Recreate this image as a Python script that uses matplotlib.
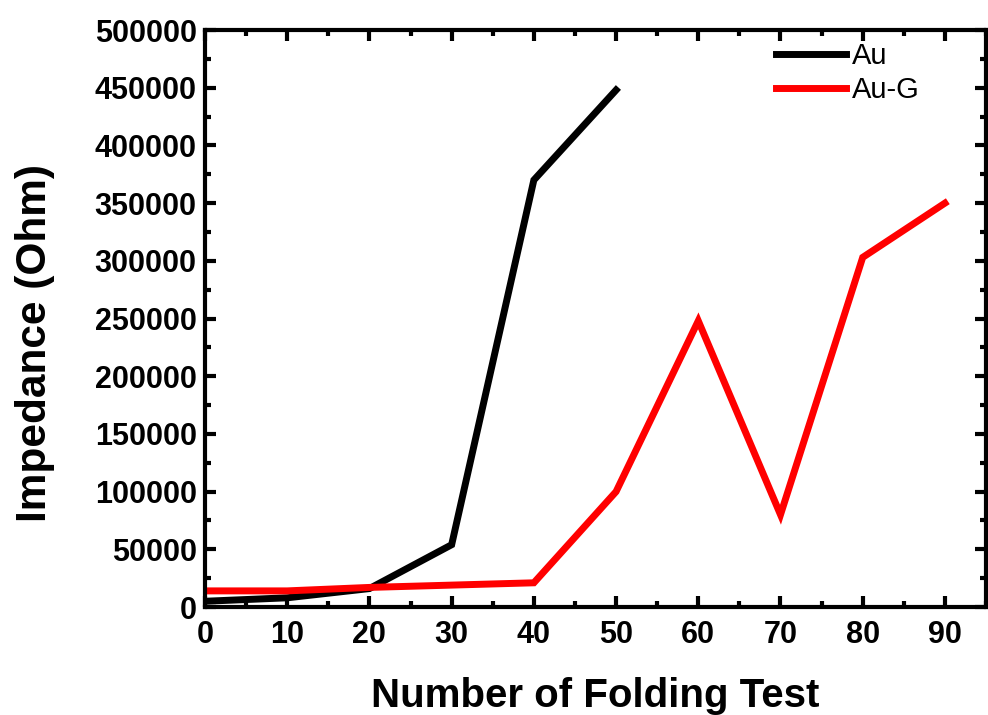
import numpy as np
import matplotlib
matplotlib.use("Agg")
import matplotlib.pyplot as plt
from matplotlib.ticker import MultipleLocator

plt.rcParams['font.family'] = ['Liberation Sans', 'DejaVu Sans']

folds_au = [0, 10, 20, 30, 40, 50]
imp_au = [5000, 8000, 16000, 54000, 370000, 448000]

folds_aug = [0, 10, 20, 30, 40, 50, 60, 70, 80, 90]
imp_aug = [14000, 14000, 17000, 19000, 21000, 100000, 248000, 80000, 303000, 350000]

fig = plt.figure(figsize=(9.88, 7.15), dpi=100)
ax = fig.add_axes([0.2075, 0.151, 0.7905, 0.807])

ax.plot(folds_au, imp_au, color='black', lw=5, label='Au', solid_joinstyle='miter')
ax.plot(folds_aug, imp_aug, color='red', lw=5, label='Au-G', solid_joinstyle='miter')

ax.set_xlim(0, 95)
ax.set_ylim(0, 500000)
ax.xaxis.set_major_locator(MultipleLocator(10))
ax.xaxis.set_minor_locator(MultipleLocator(5))
ax.yaxis.set_major_locator(MultipleLocator(50000))
ax.yaxis.set_minor_locator(MultipleLocator(25000))
ax.set_xticks(range(0, 91, 10))

for s in ax.spines.values():
    s.set_linewidth(3)
ax.tick_params(which='both', direction='in', top=True, right=True, width=3)
ax.tick_params(which='major', length=8, labelsize=22)
ax.tick_params(which='minor', length=4.5)
ax.tick_params(axis='x', which='major', pad=9)
ax.tick_params(axis='y', which='major', pad=6)
for lab in ax.get_xticklabels() + ax.get_yticklabels():
    lab.set_fontweight('bold')

ax.set_xlabel('Number of Folding Test', fontsize=29, fontweight='bold', labelpad=20)
ax.set_ylabel('Impedance (Ohm)', fontsize=30.5, fontweight='bold')
ax.yaxis.set_label_coords(-0.192, 0.4575)

ax.legend(loc='upper left', frameon=False, fontsize=21, handlelength=2.4,
          handletextpad=0.2, bbox_to_anchor=(0.731, 0.979), borderaxespad=0,
          borderpad=0, labelspacing=0.2)

fig.savefig('out.png', dpi=100)
